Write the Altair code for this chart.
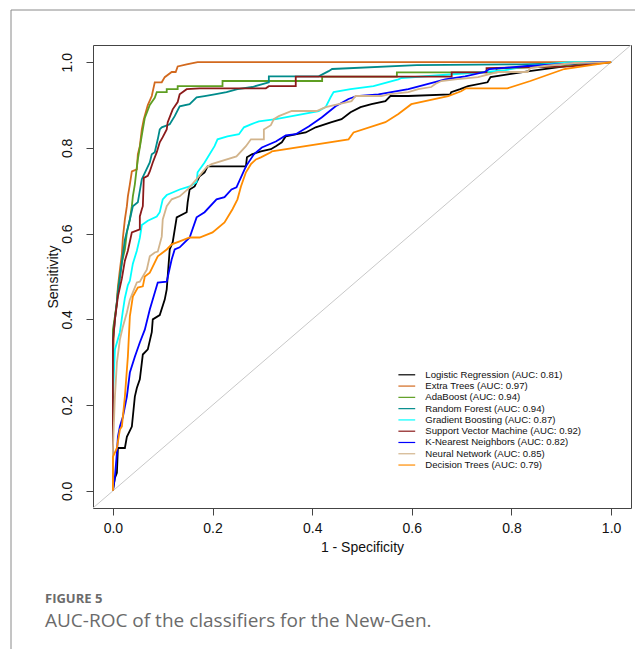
import altair as alt
import pandas as pd

# ---------------- data ----------------
series_names = [
    "Logistic Regression (AUC: 0.81)",
    "Extra Trees (AUC: 0.97)",
    "AdaBoost (AUC: 0.94)",
    "Random Forest (AUC: 0.94)",
    "Gradient Boosting (AUC: 0.87)",
    "Support Vector Machine (AUC: 0.92)",
    "K-Nearest Neighbors (AUC: 0.82)",
    "Neural Network (AUC: 0.85)",
    "Decision Trees (AUC: 0.79)",
]
series_colors = ["#000000", "#D2691E", "#5E9E22", "#008B8B", "#00FFFF",
                 "#8B1A1A", "#0000FF", "#D2B48C", "#FF8C00"]

lr_fpr = [0, 0, 0.004, 0.008, 0.01, 0.024, 0.028, 0.038, 0.044, 0.048, 0.054, 0.06, 0.07, 0.078, 0.08, 0.094,
          0.104, 0.108, 0.114, 0.12, 0.128, 0.148, 0.15, 0.154, 0.164, 0.174, 0.184, 0.19, 0.267, 0.269, 0.279,
          0.297, 0.317, 0.327, 0.339, 0.347, 0.369, 0.387, 0.407, 0.439, 0.459, 0.477, 0.497, 0.519, 0.547, 0.557,
          0.593, 0.677, 0.679, 0.697, 0.713, 0.752, 0.758, 0.796, 0.836, 0.892, 0.938, 1.0]
lr_tpr = [0, 0.002, 0.03, 0.042, 0.1, 0.1, 0.126, 0.15, 0.22, 0.24, 0.26, 0.318, 0.33, 0.37, 0.40, 0.41,
          0.446, 0.47, 0.563, 0.58, 0.638, 0.65, 0.673, 0.703, 0.71, 0.734, 0.743, 0.757, 0.757, 0.778, 0.785,
          0.792, 0.797, 0.804, 0.813, 0.827, 0.832, 0.836, 0.848, 0.86, 0.867, 0.883, 0.895, 0.902, 0.909, 0.921,
          0.921, 0.925, 0.93, 0.937, 0.944, 0.953, 0.965, 0.972, 0.979, 0.988, 0.995, 1.0]

et_fpr = [0, 0, 0.002, 0.004, 0.008, 0.01, 0.014, 0.018, 0.02, 0.024, 0.028, 0.03, 0.034, 0.038, 0.048, 0.05,
          0.054, 0.058, 0.062, 0.07, 0.078, 0.084, 0.098, 0.104, 0.118, 0.126, 0.13, 0.148, 0.17, 1.0]
et_tpr = [0, 0.3, 0.37, 0.40, 0.44, 0.476, 0.516, 0.553, 0.59, 0.633, 0.664, 0.687, 0.715, 0.745, 0.75, 0.785,
          0.804, 0.843, 0.867, 0.9, 0.921, 0.953, 0.953, 0.965, 0.977, 0.977, 0.99, 0.995, 1.0, 1.0]

ada_fpr = [0, 0, 0, 0.004, 0.008, 0.01, 0.014, 0.018, 0.024, 0.028, 0.034, 0.038, 0.04, 0.044, 0.048, 0.05,
           0.06, 0.064, 0.074, 0.084, 0.088, 0.108, 0.108, 0.13, 0.13, 0.22, 0.22, 0.42, 0.42, 0.57, 0.57, 0.77,
           0.77, 0.9, 1.0]
ada_tpr = [0, 0.29, 0.376, 0.407, 0.44, 0.47, 0.5, 0.533, 0.563, 0.603, 0.633, 0.664, 0.687, 0.715, 0.755, 0.773,
           0.843, 0.87, 0.9, 0.917, 0.93, 0.93, 0.937, 0.937, 0.944, 0.944, 0.956, 0.956, 0.966, 0.966, 0.976, 0.976,
           0.985, 0.99, 1.0]

rf_fpr = [0, 0, 0.004, 0.01, 0.018, 0.024, 0.034, 0.04, 0.05, 0.058, 0.074, 0.078, 0.084, 0.09, 0.094, 0.098,
          0.114, 0.124, 0.134, 0.154, 0.168, 0.184, 0.204, 0.228, 0.25, 0.28, 0.313, 0.313, 0.413, 0.433, 0.44,
          0.61, 0.82, 1.0]
rf_tpr = [0, 0.353, 0.40, 0.463, 0.533, 0.586, 0.633, 0.664, 0.673, 0.727, 0.766, 0.785, 0.79, 0.82, 0.843, 0.848,
          0.855, 0.874, 0.897, 0.902, 0.918, 0.921, 0.925, 0.93, 0.937, 0.942, 0.953, 0.967, 0.967, 0.979, 0.984,
          0.993, 0.995, 1.0]

gb_fpr = [0, 0, 0, 0.004, 0.014, 0.02, 0.024, 0.03, 0.034, 0.04, 0.048, 0.054, 0.058, 0.07, 0.088, 0.094, 0.1,
          0.108, 0.134, 0.154, 0.168, 0.17, 0.184, 0.204, 0.21, 0.23, 0.253, 0.263, 0.277, 0.293, 0.327, 0.413,
          0.419, 0.427, 0.437, 0.443, 0.477, 0.523, 0.573, 0.579, 0.746, 0.786, 0.832, 0.918, 1.0]
gb_tpr = [0, 0.165, 0.22, 0.33, 0.37, 0.42, 0.45, 0.48, 0.49, 0.53, 0.56, 0.59, 0.62, 0.63, 0.64, 0.65, 0.68,
          0.69, 0.703, 0.71, 0.72, 0.743, 0.766, 0.804, 0.82, 0.827, 0.832, 0.848, 0.855, 0.862, 0.867, 0.886,
          0.89, 0.895, 0.918, 0.93, 0.937, 0.944, 0.96, 0.963, 0.977, 0.981, 0.991, 1.0, 1.0]

svm_fpr = [0, 0, 0.004, 0.01, 0.018, 0.024, 0.03, 0.038, 0.054, 0.054, 0.058, 0.06, 0.062, 0.07, 0.074, 0.08,
           0.088, 0.094, 0.1, 0.108, 0.11, 0.12, 0.13, 0.134, 0.148, 0.174, 0.307, 0.313, 0.367, 0.367, 0.68,
           0.68, 0.75, 0.75, 0.92, 1.0]
svm_tpr = [0, 0.35, 0.40, 0.453, 0.496, 0.537, 0.56, 0.603, 0.61, 0.64, 0.657, 0.664, 0.73, 0.735, 0.745, 0.766,
           0.79, 0.813, 0.825, 0.843, 0.86, 0.89, 0.907, 0.925, 0.937, 0.939, 0.939, 0.944, 0.944, 0.966, 0.966,
           0.976, 0.976, 0.986, 0.99, 1.0]

knn_fpr = [0, 0.004, 0.008, 0.01, 0.014, 0.02, 0.028, 0.034, 0.044, 0.054, 0.064, 0.074, 0.09, 0.108, 0.118,
           0.124, 0.134, 0.154, 0.168, 0.184, 0.208, 0.224, 0.238, 0.248, 0.267, 0.283, 0.299, 0.327, 0.347, 0.367,
           0.393, 0.419, 0.447, 0.473, 0.489, 0.533, 0.593, 0.667, 0.707, 0.746, 0.756, 0.832, 0.972, 1.0]
knn_tpr = [0, 0.033, 0.089, 0.126, 0.15, 0.173, 0.22, 0.276, 0.313, 0.346, 0.376, 0.423, 0.486, 0.488, 0.54,
           0.563, 0.568, 0.591, 0.638, 0.65, 0.68, 0.685, 0.703, 0.708, 0.757, 0.785, 0.801, 0.815, 0.829, 0.832,
           0.85, 0.871, 0.897, 0.914, 0.921, 0.925, 0.937, 0.96, 0.967, 0.977, 0.984, 0.991, 1.0, 1.0]

nn_fpr = [0, 0, 0.002, 0.004, 0.008, 0.014, 0.02, 0.028, 0.034, 0.04, 0.048, 0.054, 0.06, 0.068, 0.074, 0.084,
          0.09, 0.098, 0.1, 0.108, 0.118, 0.134, 0.15, 0.168, 0.188, 0.198, 0.248, 0.267, 0.277, 0.303, 0.303,
          0.317, 0.323, 0.333, 0.359, 0.409, 0.427, 0.479, 0.487, 0.539, 0.553, 0.593, 0.613, 0.639, 0.647,
          0.659, 0.687, 0.733, 0.772, 0.832, 0.838, 0.866, 0.926, 1.0]
nn_tpr = [0, 0.1, 0.159, 0.22, 0.299, 0.353, 0.383, 0.416, 0.446, 0.463, 0.486, 0.488, 0.5, 0.516, 0.547, 0.556,
          0.558, 0.593, 0.633, 0.664, 0.68, 0.687, 0.703, 0.727, 0.755, 0.762, 0.78, 0.804, 0.82, 0.82, 0.843,
          0.853, 0.867, 0.874, 0.886, 0.886, 0.895, 0.909, 0.921, 0.921, 0.925, 0.93, 0.937, 0.942, 0.949,
          0.956, 0.96, 0.965, 0.977, 0.977, 0.986, 0.991, 0.998, 1.0]

dt_fpr = [0, 0, 0.008, 0.014, 0.018, 0.024, 0.03, 0.034, 0.04, 0.05, 0.06, 0.064, 0.074, 0.09, 0.108, 0.118,
          0.134, 0.154, 0.174, 0.2, 0.224, 0.24, 0.25, 0.257, 0.267, 0.277, 0.287, 0.297, 0.317, 0.319, 0.473,
          0.483, 0.547, 0.573, 0.599, 0.673, 0.699, 0.709, 0.792, 0.838, 0.906, 1.0]
dt_tpr = [0, 0.079, 0.1, 0.143, 0.15, 0.22, 0.313, 0.407, 0.453, 0.474, 0.477, 0.5, 0.509, 0.547, 0.563, 0.575,
          0.582, 0.591, 0.591, 0.603, 0.626, 0.657, 0.68, 0.71, 0.743, 0.762, 0.773, 0.778, 0.79, 0.792, 0.82,
          0.836, 0.86, 0.879, 0.902, 0.921, 0.932, 0.939, 0.939, 0.956, 0.984, 1.0]

series_fpr = [lr_fpr, et_fpr, ada_fpr, rf_fpr, gb_fpr, svm_fpr, knn_fpr, nn_fpr, dt_fpr]
series_tpr = [lr_tpr, et_tpr, ada_tpr, rf_tpr, gb_tpr, svm_tpr, knn_tpr, nn_tpr, dt_tpr]

axis_ticks = [0.0, 0.2, 0.4, 0.6, 0.8, 1.0]
diag_vals = [-0.04, 1.04]
figure_label = "FIGURE 5"
figure_caption = "AUC-ROC of the classifiers for the New-Gen."

# ---------------- build table ----------------
rows = []
for name, xs, ys in zip(series_names, series_fpr, series_tpr):
    for i, (xv, yv) in enumerate(zip(xs, ys)):
        rows.append({"series": name, "fpr": xv, "tpr": yv, "idx": i})
df = pd.DataFrame(rows)
diag_df = pd.DataFrame({"fpr": diag_vals, "tpr": diag_vals})

FONT = "Liberation Sans"
W, H = 538, 463

xscale = alt.Scale(domain=[-0.04, 1.04], nice=False, zero=False)
yscale = alt.Scale(domain=[-0.04, 1.04], nice=False, zero=False)

x_axis = alt.Axis(values=axis_ticks, format=".1f", grid=False, domain=False,
                  tickSize=7, tickColor="#444", tickWidth=1,
                  labelFont=FONT, labelFontSize=14, labelColor="#111",
                  labelBaseline="alphabetic", labelPadding=17, labelFlush=False,
                  title="1 - Specificity", titleFont=FONT, titleFontSize=14,
                  titleFontWeight="normal", titleColor="#111",
                  titleBaseline="alphabetic", titleY=43)
y_axis = alt.Axis(values=axis_ticks, format=".1f", grid=False, domain=False,
                  tickSize=7, tickColor="#444", tickWidth=1,
                  labelFont=FONT, labelFontSize=14, labelColor="#111",
                  labelAngle=270, labelAlign="center", labelBaseline="alphabetic",
                  labelPadding=15, labelFlush=False,
                  title="Sensitivity", titleFont=FONT, titleFontSize=14,
                  titleFontWeight="normal", titleColor="#111",
                  titleAngle=270, titleAlign="center", titleBaseline="alphabetic",
                  titleX=-36, titleY=H / 2)

diag = alt.Chart(diag_df).mark_line(color="#C8C8C8", strokeWidth=1, clip=True).encode(
    x=alt.X("fpr:Q", scale=xscale, axis=x_axis),
    y=alt.Y("tpr:Q", scale=yscale, axis=y_axis),
)

curves = alt.Chart(df).mark_line(strokeWidth=1.8, clip=True).encode(
    x=alt.X("fpr:Q", scale=xscale),
    y=alt.Y("tpr:Q", scale=yscale),
    color=alt.Color("series:N", sort=series_names,
                    scale=alt.Scale(domain=series_names, range=series_colors),
                    legend=alt.Legend(title=None, orient="none", legendX=309, legendY=325,
                                      symbolType="M-2.4,0H2.4", symbolSize=49,
                                      symbolStrokeWidth=1.2, labelFont=FONT,
                                      labelFontSize=9.6, labelColor="#111",
                                      labelOffset=13.7, rowPadding=0.28, padding=0,
                                      labelLimit=300)),
    order="idx:Q",
)

text_df = pd.DataFrame({"t": [figure_label]})
fig_label = alt.Chart(text_df).mark_text(
    align="left", baseline="alphabetic", font="Open Sans", fontSize=13,
    fontWeight="bold", color="#6b6b6b"
).encode(x=alt.value(-48), y=alt.value(558), text="t:N")

cap_df = pd.DataFrame({"t": [figure_caption]})
fig_caption = alt.Chart(cap_df).mark_text(
    align="left", baseline="alphabetic", font="Open Sans", fontSize=19,
    color="#6b6b6b"
).encode(x=alt.value(-48), y=alt.value(582), text="t:N")

frame_top = alt.Chart(text_df).mark_rule(color="#8a8a8a", strokeWidth=1).encode(
    x=alt.value(-82), x2=alt.value(560), y=alt.value(-35))
frame_left = alt.Chart(text_df).mark_rule(color="#8a8a8a", strokeWidth=1).encode(
    x=alt.value(-82), y=alt.value(-35), y2=alt.value(620))

chart = alt.layer(diag, curves, fig_label, fig_caption, frame_top, frame_left).properties(
    width=W, height=H,
    autosize=alt.AutoSizeParams(type="none"),
    padding={"left": 85, "top": 37, "right": 4, "bottom": 141},
    background="white",
).configure_view(stroke="#444", strokeWidth=1)

chart.save("out.html", embed_options={"renderer": "svg", "actions": False})
